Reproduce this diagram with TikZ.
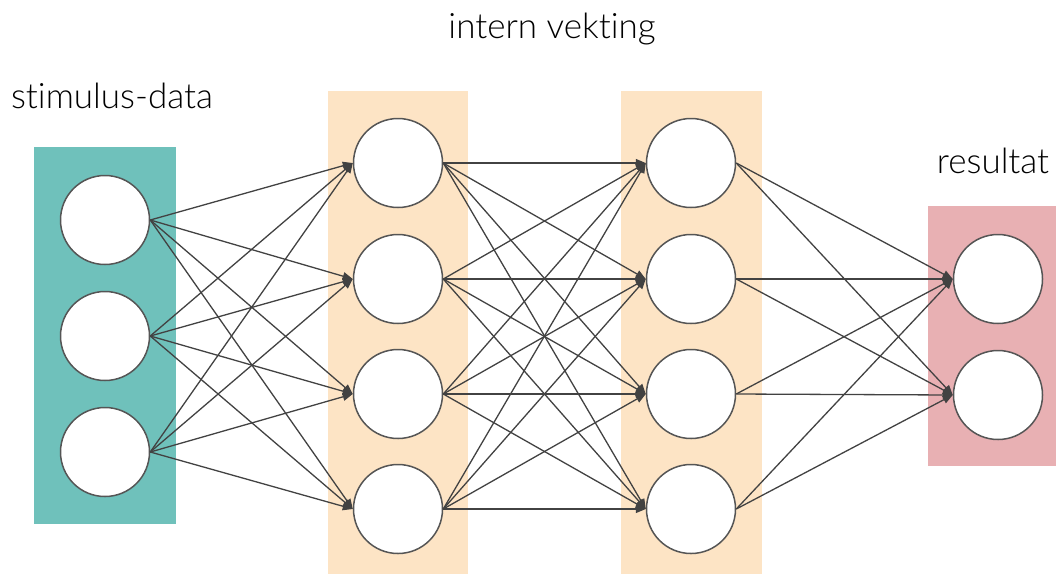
\documentclass[tikz,border=0pt]{standalone}
\usepackage{fontspec}
\setmainfont{Lato}[UprightFont={* Light}, Ligatures=NoCommon]
\usetikzlibrary{arrows.meta}
\definecolor{tealbg}{HTML}{6FC1BB}
\definecolor{orangebg}{HTML}{FDE4C5}
\definecolor{pinkbg}{HTML}{E8B0B3}
\definecolor{edgegrey}{HTML}{424242}
\definecolor{ringgrey}{HTML}{555555}
\tikzset{
  neuron/.style={circle, minimum size=89pt, inner sep=0pt, fill=white, draw=ringgrey, line width=1.5pt},
  link/.style={draw=edgegrey, line width=1.3pt, -{Triangle[length=10pt,width=8pt]}},
  title/.style={anchor=base, font=\fontsize{35}{38}\selectfont, text=black, inner sep=0pt}
}
\begin{document}
\begin{tikzpicture}[x=1pt,y=-1pt]
\useasboundingbox (0,0) rectangle (1056,574);
% layer backgrounds
\fill[tealbg] (34,147) rectangle (176,524);
\fill[orangebg] (328,91) rectangle (468,574);
\fill[orangebg] (621,91) rectangle (762,574);
\fill[pinkbg] (928,206) rectangle (1056,466);
% titles
\node[title] (t1) at (112,108) {stimulus-data};
\node[title] (t2) at (552,38) {intern vekting};
\node[title] (t3) at (993,173) {resultat};
% neurons
\foreach \i/\y in {1/220,2/336,3/452} \node[neuron] (a\i) at (105,\y) {};
\foreach \i/\y in {1/163,2/279,3/394,4/509} \node[neuron] (b\i) at (398,\y) {};
\foreach \i/\y in {1/163,2/279,3/394,4/509} \node[neuron] (c\i) at (691,\y) {};
\foreach \i/\y in {1/279,2/395} \node[neuron] (d\i) at (998,\y) {};
% connections
\foreach \i in {1,2,3} \foreach \j in {1,2,3,4} \draw[link] (a\i.east) -- (b\j.west);
\foreach \i in {1,2,3,4} \foreach \j in {1,2,3,4} \draw[link] (b\i.east) -- (c\j.west);
\foreach \i in {1,2,3,4} \foreach \j in {1,2} \draw[link] (c\i.east) -- (d\j.west);
\end{tikzpicture}
\end{document}
